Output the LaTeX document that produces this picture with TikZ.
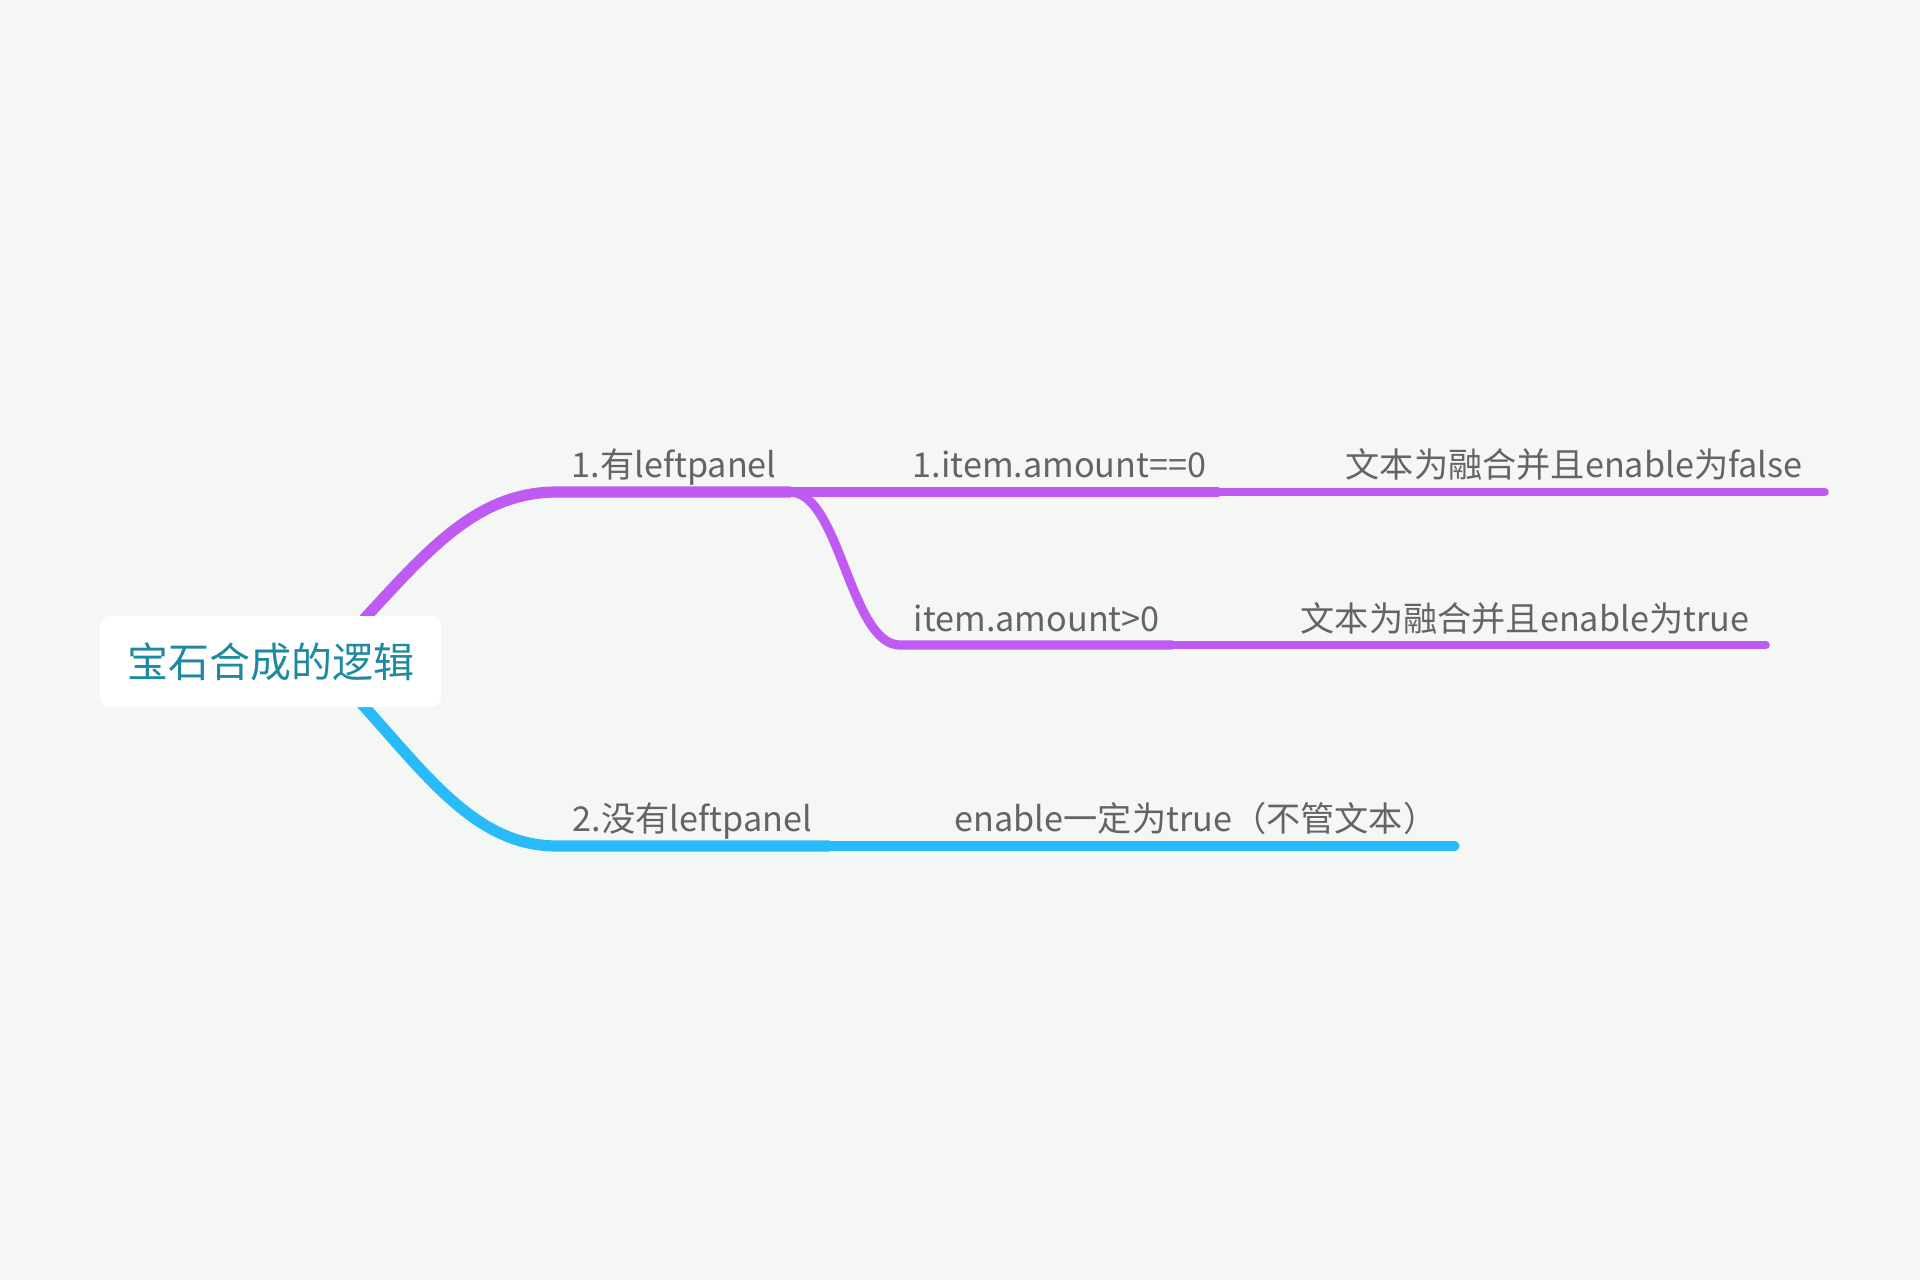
\documentclass[tikz,border=0pt]{standalone}
\usepackage{fontspec}
\setmainfont{Noto Sans CJK SC}
\definecolor{bgcol}{RGB}{245,247,245}
\definecolor{purplebr}{RGB}{191,90,242}
\definecolor{bluebr}{RGB}{41,187,249}
\definecolor{labelgray}{RGB}{100,100,100}
\definecolor{rootteal}{RGB}{30,137,160}
\tikzset{
	topic/.style={anchor=base west, inner sep=0pt, text=labelgray, font=\fontsize{17.1}{20}\selectfont},
	rootbox/.style={fill=white, rounded corners=5pt, minimum width=170.5pt, minimum height=45.5pt, text=rootteal, font=\fontsize{20.5}{24}\selectfont},
	mainline/.style={line width=5.6pt, line cap=round},
	subline/.style={line width=4.6pt, line cap=round},
	leafline/.style={line width=3.8pt, line cap=round}}
\tikzset{every picture/.style={line width=0.75pt}}
\begin{document}
\begin{tikzpicture}[x=0.5pt,y=0.5pt,yscale=-1,xscale=1]
	%Shape: Background
	\path [fill=bgcol, use as bounding box] (0,0) rectangle (1920,1280);

	% Coordinates of the branch lines
	\coordinate (r1) at (340,645);
	\coordinate (r2) at (340,680);
	\coordinate (t1s) at (557,492);
	\coordinate (t1e) at (790,492);
	\coordinate (s1s) at (900,492);
	\coordinate (s1e) at (1218,492);
	\coordinate (f1s) at (1334,492);
	\coordinate (f1e) at (1825,492);
	\coordinate (s2s) at (900,645);
	\coordinate (s2e) at (1172,645);
	\coordinate (f2s) at (1288,645);
	\coordinate (f2e) at (1766,645);
	\coordinate (t2s) at (557,846);
	\coordinate (t2e) at (829,846);
	\coordinate (s3s) at (941,846);
	\coordinate (s3e) at (1455,846);

	%Curves from the root
	\draw [mainline, draw=purplebr] (r1) .. controls (420,560) and (470,492) .. (t1s) -- (t1e) ;
	\draw [mainline, draw=bluebr] (r2) .. controls (420,765) and (470,846) .. (t2s) -- (t2e) ;
	%Straight Lines
	\draw [subline, draw=purplebr] (t1e) -- (s1s) -- (s1e) ;
	\draw [subline, draw=purplebr] (t1e) .. controls (840,492) and (850,645) .. (s2s) -- (s2e) ;
	\draw [leafline, draw=purplebr] (s1e) -- (f1s) -- (f1e) ;
	\draw [leafline, draw=purplebr] (s2e) -- (f2s) -- (f2e) ;
	\draw [subline, draw=bluebr] (t2e) -- (s3s) -- (s3e) ;

	%Shape: Root box
	\node (root) [rootbox] at (270.5,661.5) {宝石合成的逻辑};

	% Text Node
	\node (t1) [topic] at (571,477) {1.有leftpanel};
	% Text Node
	\node (s1) [topic] at (912,477) {1.item.amount==0};
	% Text Node
	\node (f1) [topic] at (1345,477) {文本为融合并且enable为false};
	% Text Node
	\node (s2) [topic] at (913,631) {item.amount>0};
	% Text Node
	\node (f2) [topic] at (1300,631) {文本为融合并且enable为true};
	% Text Node
	\node (t2) [topic] at (572,831) {2.没有leftpanel};
	% Text Node
	\node (s3) [topic] at (954,831) {enable一定为true（不管文本）};

\end{tikzpicture}
\end{document}
